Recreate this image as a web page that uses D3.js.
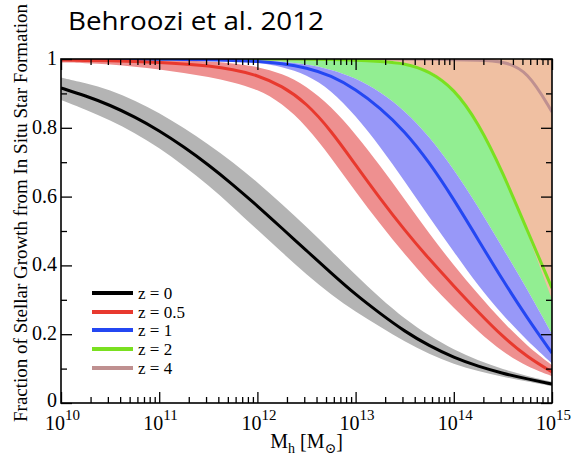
<!DOCTYPE html>
<html>
<head>
<meta charset="utf-8">
<script src="https://cdn.jsdelivr.net/npm/d3@7"></script>
<style>
  body { margin: 0; background: #fff; }
  svg { display: block; }
  .tick-label { font-family: "Liberation Serif", "DejaVu Serif", serif; font-size: 20px; fill: #000; }
</style>
</head>
<body>
<div id="chart"></div>
<script>
// log10 of halo mass, shared by every series
var logM = [10, 10.25, 10.5, 10.75, 11, 11.25, 11.5, 11.75, 12, 12.25, 12.5,
  12.75, 13, 13.25, 13.5, 13.75, 14, 14.25, 14.5, 14.75, 15];

// z = 0
var z0Line = [0.916, 0.893, 0.866, 0.832, 0.792, 0.745, 0.693, 0.635, 0.573, 0.508, 0.443,
  0.378, 0.315, 0.26, 0.208, 0.166, 0.132, 0.106, 0.086, 0.07, 0.055];
var z0Hi = [0.946, 0.93, 0.91, 0.88, 0.843, 0.8, 0.752, 0.7, 0.642, 0.578, 0.512,
  0.443, 0.372, 0.305, 0.245, 0.195, 0.155, 0.123, 0.098, 0.078, 0.062];
var z0Lo = [0.881, 0.853, 0.822, 0.785, 0.742, 0.69, 0.633, 0.57, 0.503, 0.438, 0.373,
  0.315, 0.265, 0.222, 0.178, 0.142, 0.113, 0.092, 0.076, 0.062, 0.049];

// z = 0.5
var z05Line = [0.997, 0.996, 0.995, 0.993, 0.99, 0.986, 0.98, 0.97, 0.953, 0.922, 0.872,
  0.792, 0.692, 0.594, 0.502, 0.418, 0.34, 0.264, 0.192, 0.133, 0.09];
var z05Hi = [1, 0.999, 0.999, 0.998, 0.997, 0.995, 0.993, 0.988, 0.978, 0.958, 0.922,
  0.862, 0.782, 0.69, 0.592, 0.492, 0.4, 0.315, 0.235, 0.165, 0.11];
var z05Lo = [0.99, 0.988, 0.984, 0.978, 0.97, 0.96, 0.948, 0.933, 0.912, 0.872, 0.805,
  0.714, 0.614, 0.52, 0.432, 0.35, 0.276, 0.207, 0.148, 0.105, 0.078];

// z = 1
var z1Line = [1, 1, 1, 0.999, 0.999, 0.999, 0.998, 0.996, 0.993, 0.987, 0.975,
  0.952, 0.912, 0.858, 0.79, 0.7, 0.592, 0.474, 0.356, 0.246, 0.145];
var z1Hi = [1, 1, 1, 1, 1, 1, 1, 0.999, 0.997, 0.993, 0.985,
  0.97, 0.945, 0.905, 0.85, 0.775, 0.68, 0.57, 0.45, 0.33, 0.2];
var z1Lo = [0.999, 0.999, 0.999, 0.999, 0.999, 0.999, 0.999, 0.997, 0.99, 0.978, 0.955,
  0.91, 0.835, 0.745, 0.645, 0.54, 0.44, 0.34, 0.255, 0.18, 0.115];

// z = 2 (band runs from z1Hi up to the line, top part filled by z = 4)
var z2Line = [1, 1, 1, 1, 1, 1, 1, 1, 1, 1, 0.9995,
  0.999, 0.997, 0.993, 0.988, 0.965, 0.915, 0.815, 0.67, 0.5, 0.334];
var z2Lo = z1Hi;

// z = 4
var z4Line = [1, 1, 1, 1, 1, 1, 1, 1, 1, 1, 1,
  1, 1, 1, 0.9995, 0.999, 0.998, 0.997, 0.994, 0.967, 0.846];
var z4Lo = [1, 1, 1, 1, 1, 1, 1, 1, 1, 1, 1,
  1, 1, 0.998, 0.99, 0.968, 0.92, 0.82, 0.672, 0.495, 0.3];

var xMajor = [10, 11, 12, 13, 14, 15];
var yMajor = [0, 0.2, 0.4, 0.6, 0.8, 1];
var yMinor = [0.1, 0.3, 0.5, 0.7, 0.9];
var yLabels = ['0', '0.2', '0.4', '0.6', '0.8', '1'];

var legendNames = ['z = 0', 'z = 0.5', 'z = 1', 'z = 2', 'z = 4'];
var legendColors = ['#000000', '#e8392e', '#2447f2', '#7ae020', '#bf9090'];

(function() {
  var W = 572, H = 458;
  var plot = {left: 61, right: 552, top: 59, bottom: 403};

  var svg = d3.select('#chart').append('svg')
    .attr('width', W)
    .attr('height', H);

  var x = d3.scaleLog()
    .domain([1e10, 1e15])
    .range([plot.left, plot.right]);

  var y = d3.scaleLinear()
    .domain([0, 1])
    .range([plot.bottom, plot.top]);

  function mx(i) { return x(Math.pow(10, logM[i])); }

  svg.append('clipPath')
    .attr('id', 'clip')
    .append('rect')
    .attr('x', plot.left)
    .attr('y', plot.top)
    .attr('width', plot.right - plot.left)
    .attr('height', plot.bottom - plot.top);

  var g = svg.append('g').attr('clip-path', 'url(#clip)');

  function band(lo, hi, color) {
    var area = d3.area()
      .curve(d3.curveBasis)
      .x(function(d, i) { return mx(i); })
      .y0(function(d, i) { return y(lo[i]); })
      .y1(function(d, i) { return y(hi[i]); });
    g.append('path')
      .attr('d', area(logM))
      .attr('fill', color)
      .attr('stroke', 'none');
  }

  function line(vals, color, width) {
    var ln = d3.line()
      .curve(d3.curveBasis)
      .x(function(d, i) { return mx(i); })
      .y(function(d, i) { return y(vals[i]); });
    g.append('path')
      .attr('d', ln(logM))
      .attr('fill', 'none')
      .attr('stroke', color)
      .attr('stroke-width', width);
  }

  var ones = logM.map(function() { return 1.02; });

  band(z2Lo, z2Line, '#92ee92');
  band(z4Lo, ones, '#f0c0a2');
  band(z1Lo, z1Hi, '#9898f8');
  band(z05Lo, z05Hi, '#ee9090');
  band(z0Lo, z0Hi, '#b4b4b4');

  line(z4Line, legendColors[4], 3);
  line(z2Line, legendColors[3], 3);
  line(z1Line, legendColors[2], 3);
  line(z05Line, legendColors[1], 3);
  line(z0Line, legendColors[0], 3);

  // axes: ticks on all four sides, pointing inward
  var majorVals = xMajor.map(function(e) { return Math.pow(10, e); });
  var minorVals = [];
  xMajor.slice(0, -1).forEach(function(e) {
    for (var k = 2; k <= 9; k++) minorVals.push(k * Math.pow(10, e));
  });

  function styleAxis(sel) {
    sel.select('.domain').remove();
    sel.selectAll('.tick line').attr('stroke', '#000').attr('stroke-width', 1.3);
    sel.selectAll('.tick text').remove();
  }

  [[d3.axisBottom, plot.bottom], [d3.axisTop, plot.top]].forEach(function(a) {
    svg.append('g')
      .attr('transform', 'translate(0,' + a[1] + ')')
      .call(a[0](x).tickValues(majorVals).tickSize(-11).tickFormat(''))
      .call(styleAxis);
    svg.append('g')
      .attr('transform', 'translate(0,' + a[1] + ')')
      .call(a[0](x).tickValues(minorVals).tickSize(-6).tickFormat(''))
      .call(styleAxis);
  });

  [[d3.axisLeft, plot.left], [d3.axisRight, plot.right]].forEach(function(a) {
    svg.append('g')
      .attr('transform', 'translate(' + a[1] + ',0)')
      .call(a[0](y).tickValues(yMajor).tickSize(-11).tickFormat(''))
      .call(styleAxis);
    svg.append('g')
      .attr('transform', 'translate(' + a[1] + ',0)')
      .call(a[0](y).tickValues(yMinor).tickSize(-6).tickFormat(''))
      .call(styleAxis);
  });

  svg.append('rect')
    .attr('x', plot.left)
    .attr('y', plot.top)
    .attr('width', plot.right - plot.left)
    .attr('height', plot.bottom - plot.top)
    .attr('fill', 'none')
    .attr('stroke', '#000')
    .attr('stroke-width', 1.6);

  // y tick labels
  svg.selectAll('.ylab')
    .data(yMajor)
    .enter()
    .append('text')
    .attr('class', 'tick-label')
    .attr('x', plot.left - 4)
    .attr('y', function(d) { return y(d) + (d === 0 ? 4 : 6); })
    .attr('text-anchor', 'end')
    .text(function(d, i) { return yLabels[i]; });

  // x tick labels, 10^n
  var xl = svg.selectAll('.xlab')
    .data(xMajor)
    .enter()
    .append('text')
    .attr('class', 'tick-label')
    .attr('x', function(d) { return x(Math.pow(10, d)) - 16; })
    .attr('y', 430);
  xl.append('tspan').text('10');
  xl.append('tspan')
    .attr('dy', -10)
    .style('font-size', '15px')
    .text(function(d) { return d; });

  // axis titles
  var xt = svg.append('text')
    .attr('class', 'tick-label')
    .attr('x', (plot.left + plot.right) / 2)
    .attr('y', 448)
    .attr('text-anchor', 'middle');
  xt.append('tspan').text('M');
  xt.append('tspan').attr('dy', 5).style('font-size', '14px').text('h');
  xt.append('tspan').attr('dy', -5).text(' [M');
  xt.append('tspan').attr('dy', 5).style('font-size', '14px').text('\u2299');
  xt.append('tspan').attr('dy', -5).text(']');

  svg.append('text')
    .attr('class', 'tick-label')
    .attr('transform', 'translate(27,213) rotate(-90)')
    .attr('text-anchor', 'middle')
    .style('font-size', '19px')
    .attr('textLength', 418)
    .attr('lengthAdjust', 'spacingAndGlyphs')
    .text('Fraction of Stellar Growth from In Situ Star Formation');

  svg.append('text')
    .attr('x', 68)
    .attr('y', 30)
    .style('font-family', '"Open Sans", sans-serif')
    .style('font-size', '25px')
    .attr('textLength', 256)
    .attr('lengthAdjust', 'spacingAndGlyphs')
    .attr('fill', '#000')
    .text('Behroozi et al. 2012');

  // legend
  var rowY = [293, 312, 330, 349, 368];
  var lg = svg.selectAll('.legend')
    .data(legendNames)
    .enter()
    .append('g');
  lg.append('line')
    .attr('x1', 92)
    .attr('x2', 133)
    .attr('y1', function(d, i) { return rowY[i]; })
    .attr('y2', function(d, i) { return rowY[i]; })
    .attr('stroke', function(d, i) { return legendColors[i]; })
    .attr('stroke-width', 4);
  lg.append('text')
    .attr('class', 'tick-label')
    .attr('x', 138)
    .attr('y', function(d, i) { return rowY[i] + 6; })
    .style('font-size', '17px')
    .text(function(d) { return d; });
})();
</script>
</body>
</html>
